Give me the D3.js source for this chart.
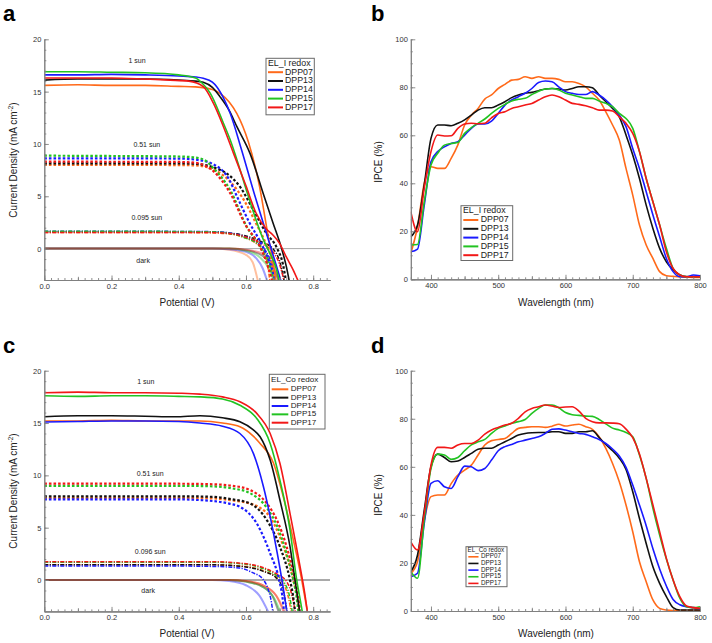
<!DOCTYPE html>
<html><head><meta charset="utf-8">
<script src="https://cdn.jsdelivr.net/npm/d3@7"></script>
<style>
body{margin:0;background:#fff;}
svg{display:block;font-family:"Liberation Sans",Arial,Helvetica,sans-serif;}
</style></head><body>
<svg id="chart" width="712" height="643"></svg>
<script>
// ---------------- DATA ----------------
const dyes = ["DPP07","DPP13","DPP14","DPP15","DPP17"];
const dyeColors = ["#ff6a1a","#111111","#1a1aff","#22c322","#f21818"];

const jvTicksMajor = [0,0.2,0.4,0.6,0.8];
const jTicksMajor = [0,5,10,15,20];
const wlTicksMajor = [400,500,600,700,800];
const ipceTicksMajor = [0,20,40,60,80,100];

// Panel a : EL_I redox, J-V points [V, J] per dye (DPP07, DPP13, DPP14, DPP15, DPP17)
const jvI_1sun = [
  [[0,15.6],[0.1,15.65],[0.2,15.6],[0.3,15.6],[0.4,15.5],[0.45,15.45],[0.5,15.2],[0.523,14.84],[0.55,14.0],[0.573,12.9],[0.607,10.2],[0.64,6.0],[0.667,1.0],[0.68,-1.2],[0.69,-3.3]],
  [[0,16.1],[0.1,16.2],[0.2,16.2],[0.3,16.2],[0.4,16.1],[0.45,16.0],[0.473,15.9],[0.5,15.4],[0.523,14.5],[0.55,13.2],[0.573,11.65],[0.612,9.1],[0.654,5.0],[0.68,2.5],[0.706,0],[0.72,-1.7],[0.73,-3.3]],
  [[0,16.6],[0.1,16.6],[0.2,16.65],[0.3,16.6],[0.4,16.5],[0.45,16.4],[0.473,16.27],[0.5,15.9],[0.513,15.47],[0.533,14.4],[0.553,12.93],[0.587,9.43],[0.627,5.0],[0.65,2.6],[0.672,0.3],[0.69,-1.6],[0.706,-3.3]],
  [[0,16.9],[0.1,16.9],[0.2,16.85],[0.3,16.8],[0.4,16.6],[0.45,16.3],[0.47,15.8],[0.494,14.84],[0.533,11.98],[0.553,10.4],[0.568,9.0],[0.607,5.0],[0.652,0.83],[0.672,-0.5],[0.69,-1.9],[0.70,-3.3]],
  [[0,16.3],[0.1,16.3],[0.2,16.3],[0.3,16.2],[0.374,16.1],[0.43,16.0],[0.473,15.47],[0.503,13.9],[0.533,11.65],[0.563,9.1],[0.6,6.0],[0.63,3.4],[0.66,1.9],[0.68,1.3],[0.70,0.5],[0.72,-0.8],[0.74,-2.0],[0.758,-3.3]]
];
const jvI_051 = [
  [[0,8.0],[0.2,8.0],[0.4,7.98],[0.45,7.95],[0.5,7.6],[0.55,6.5],[0.6,4.3],[0.63,2.4],[0.66,0.4],[0.675,-1.0],[0.685,-3.3]],
  [[0,8.15],[0.2,8.15],[0.4,8.15],[0.45,8.1],[0.5,7.8],[0.55,7.0],[0.582,5.92],[0.62,3.8],[0.66,1.5],[0.693,0],[0.71,-1.5],[0.72,-3.3]],
  [[0,8.63],[0.2,8.63],[0.4,8.6],[0.45,8.5],[0.5,8.1],[0.55,6.6],[0.573,5.0],[0.61,2.5],[0.65,0.2],[0.67,-1.3],[0.69,-3.3]],
  [[0,8.88],[0.2,8.85],[0.4,8.8],[0.45,8.7],[0.48,8.4],[0.503,7.68],[0.553,5.6],[0.602,2.1],[0.642,0.19],[0.665,-1.4],[0.685,-3.3]],
  [[0,8.31],[0.2,8.3],[0.4,8.28],[0.45,8.2],[0.48,7.9],[0.503,7.4],[0.553,5.3],[0.6,2.2],[0.64,0.3],[0.66,-1.2],[0.68,-3.3]]
];
const jvI_0095 = [
  [[0,1.55],[0.3,1.55],[0.5,1.5],[0.55,1.4],[0.6,1.0],[0.63,0.5],[0.65,-0.1],[0.66,-0.9],[0.672,-3.3]],
  [[0,1.6],[0.3,1.6],[0.5,1.58],[0.55,1.5],[0.6,1.2],[0.65,0.6],[0.68,0.0],[0.70,-1.2],[0.715,-3.3]],
  [[0,1.65],[0.3,1.65],[0.5,1.62],[0.55,1.5],[0.6,1.1],[0.64,0.4],[0.66,-0.3],[0.68,-1.8],[0.69,-3.3]],
  [[0,1.65],[0.3,1.65],[0.5,1.6],[0.55,1.45],[0.6,1.0],[0.64,0.3],[0.66,-0.5],[0.675,-2.0],[0.685,-3.3]],
  [[0,1.55],[0.3,1.55],[0.5,1.53],[0.55,1.45],[0.6,1.1],[0.65,0.4],[0.68,-0.3],[0.70,-1.5],[0.715,-3.3]]
];
const jvI_dark = [
  [[0,0],[0.5,0],[0.55,-0.1],[0.6,-0.6],[0.62,-1.3],[0.637,-3.3]],
  [[0,0],[0.55,0],[0.6,-0.15],[0.65,-0.7],[0.68,-1.8],[0.70,-3.3]],
  [[0,0],[0.5,0],[0.55,-0.05],[0.6,-0.3],[0.63,-0.9],[0.65,-1.9],[0.665,-3.3]],
  [[0,0],[0.55,0],[0.6,-0.2],[0.64,-0.8],[0.67,-2.0],[0.685,-3.3]],
  [[0,0],[0.55,0],[0.6,-0.1],[0.65,-0.5],[0.68,-1.5],[0.70,-3.3]]
];

// Panel c : EL_Co redox
const jvCo_1sun = [
  [[0,15.2],[0.1,15.2],[0.2,15.25],[0.3,15.2],[0.4,15.2],[0.463,15.19],[0.53,15.0],[0.582,14.64],[0.62,13.8],[0.642,13.05],[0.682,11.15],[0.711,7.96],[0.741,3.82],[0.766,0],[0.777,-2.0],[0.784,-3.3]],
  [[0,15.6],[0.1,15.7],[0.2,15.7],[0.3,15.65],[0.39,15.6],[0.463,15.7],[0.53,15.5],[0.582,15.12],[0.62,14.4],[0.642,13.69],[0.672,11.46],[0.701,7.64],[0.731,3.18],[0.746,0],[0.755,-2.0],[0.761,-3.3]],
  [[0,15.1],[0.1,15.15],[0.2,15.2],[0.3,15.2],[0.4,15.15],[0.463,15.0],[0.53,14.7],[0.582,14.0],[0.622,12.1],[0.652,8.91],[0.682,4.46],[0.707,0],[0.716,-1.8],[0.723,-3.3]],
  [[0,17.6],[0.1,17.55],[0.2,17.6],[0.3,17.6],[0.4,17.55],[0.463,17.5],[0.53,17.3],[0.582,16.7],[0.632,15.44],[0.672,13.05],[0.701,9.55],[0.731,4.78],[0.751,0],[0.762,-2.0],[0.769,-3.3]],
  [[0,17.9],[0.1,17.95],[0.2,17.9],[0.3,17.9],[0.4,17.85],[0.463,17.76],[0.53,17.5],[0.582,17.03],[0.632,15.92],[0.672,14.0],[0.701,11.15],[0.731,6.37],[0.761,1.27],[0.775,-1.3],[0.784,-3.3]]
];
const jvCo_051 = [
  [[0,7.85],[0.2,7.85],[0.4,7.85],[0.5,7.8],[0.56,7.6],[0.612,7.3],[0.642,6.9],[0.672,6.0],[0.707,3.6],[0.741,0],[0.752,-1.6],[0.759,-3.3]],
  [[0,8.0],[0.2,8.0],[0.4,8.0],[0.5,7.95],[0.56,7.7],[0.612,7.32],[0.662,5.73],[0.701,3.18],[0.731,0],[0.74,-1.5],[0.747,-3.3]],
  [[0,7.7],[0.2,7.7],[0.4,7.7],[0.5,7.55],[0.55,7.3],[0.582,7.0],[0.632,5.41],[0.672,2.55],[0.701,-0.3],[0.708,-1.5],[0.714,-3.3]],
  [[0,9.0],[0.2,9.0],[0.4,9.0],[0.5,8.95],[0.56,8.75],[0.612,8.3],[0.662,6.9],[0.692,5.2],[0.721,2.5],[0.741,0],[0.75,-1.5],[0.757,-3.3]],
  [[0,9.2],[0.2,9.2],[0.4,9.2],[0.5,9.15],[0.56,9.0],[0.612,8.6],[0.662,7.32],[0.692,5.73],[0.721,3.18],[0.746,0],[0.755,-1.5],[0.762,-3.3]]
];
const jvCo_0096 = [
  [[0,1.45],[0.3,1.45],[0.5,1.45],[0.6,1.3],[0.65,0.9],[0.69,0.3],[0.71,-0.3],[0.725,-1.5],[0.736,-3.3]],
  [[0,1.45],[0.3,1.45],[0.5,1.45],[0.6,1.25],[0.65,0.85],[0.69,0.2],[0.705,-0.5],[0.715,-1.6],[0.723,-3.3]],
  [[0,1.35],[0.3,1.35],[0.5,1.3],[0.58,1.15],[0.62,0.7],[0.65,0.1],[0.665,-0.8],[0.675,-2.0],[0.681,-3.3]],
  [[0,1.7],[0.3,1.7],[0.5,1.7],[0.6,1.5],[0.65,1.1],[0.69,0.45],[0.715,-0.3],[0.73,-1.6],[0.739,-3.3]],
  [[0,1.75],[0.3,1.75],[0.5,1.75],[0.6,1.55],[0.65,1.2],[0.69,0.6],[0.72,-0.1],[0.737,-1.5],[0.748,-3.3]]
];
const jvCo_dark = [
  [[0,0],[0.55,0],[0.6,-0.1],[0.65,-0.5],[0.69,-1.5],[0.72,-3.3]],
  [[0,0],[0.55,0],[0.6,-0.15],[0.65,-0.65],[0.68,-1.6],[0.70,-3.3]],
  [[0,0],[0.5,0],[0.55,-0.1],[0.6,-0.5],[0.64,-1.5],[0.67,-3.3]],
  [[0,0],[0.55,0],[0.6,-0.15],[0.65,-0.65],[0.685,-1.8],[0.705,-3.3]],
  [[0,0],[0.55,0],[0.6,-0.1],[0.65,-0.5],[0.69,-1.5],[0.715,-3.3]]
];

// IPCE spectra, wavelengths 370..800 nm step 10
const wavelengths = d3.range(370, 801, 10);
const ipceI = [
  [10.8,22,40,46.9,46.2,46.2,50.4,56,64.3,68.4,71.2,75.1,76.8,79.5,81.2,83,83.3,84.4,83.7,84.4,83.7,83.7,83.3,82.3,82.3,81.6,80.2,77.5,74.7,69.8,64.3,58,46.2,35.1,22.6,14.3,8.7,3.2,1.5,1.2,1,1,0.8,0.8],
  [17.7,22.6,39.3,58.7,64.3,64.3,64,65,66.4,68.4,70.5,71.5,71.5,72.6,74,75.7,76.8,77.5,77.9,78.6,79.3,79.5,79.3,78.9,79.5,80.2,80.2,79.8,76.8,74,71.2,67.7,60.1,51.8,42,30.9,21.2,12.9,7.3,3.9,1.8,1.1,1.1,1.0],
  [11.5,12.6,30.9,49,53.2,55.2,56.6,57.3,60.1,62.9,64.7,64.7,65.9,69.1,72.6,74.7,76.1,77.5,79.5,82,82.6,82.3,80.2,78.2,77.5,77,77,78.2,76.8,74.7,71.9,68.4,63.6,54.5,46.2,36.5,26.8,17.7,8.7,3.2,1.1,1.0,1.8,1.5],
  [14.3,14.5,32.3,47.6,52.5,55.9,56.6,57,60.8,63.2,65,66.8,69.1,71.2,72.9,74.3,75,75.4,77,78.4,79.3,79.5,78.9,77.5,76.8,76.1,75.4,75.4,74.3,73.3,71.9,69.1,67,62.9,53.2,42,32.3,22.6,12.9,4.5,1.8,1.0,1.0,1.0],
  [28.2,19.8,37.9,53.2,60.1,59.7,59.8,62.9,64.7,65,64.8,65,67.3,69.1,69.8,71.2,71.9,72.6,73.3,74.7,76.1,76.8,76.1,74.7,73.3,72.9,72.3,71.5,70.5,70.5,70.1,67.7,65,60.8,53.2,42,32.3,22.6,11.5,4.5,1.8,1.0,1.0,1.0]
];
const ipceCo = [
  [15.7,20.5,37.8,47.6,48.3,48.3,53,56.6,58.6,60.7,64.9,69.1,70.9,71.4,71.8,73.9,76,76.4,76.7,76.7,76.4,76.9,77.7,77,77.4,77.7,76.7,75.6,72.5,67.7,61.4,53.8,44.1,33,20.5,12.2,4.6,1.1,0.4,0.2,0.3,0.3,0.3,0.3],
  [16.4,23.3,42,60,65.3,63.9,62.1,62.4,63.9,65.6,67.3,67.7,67.7,69.1,70.4,71.8,73.2,73.9,74.2,74.3,74.3,74.6,74.6,73.9,73.9,74.6,74.6,75,72.2,69.3,66.7,63.6,58.9,49.6,38.5,28.1,18.4,11.5,6,1.4,0.4,0.4,0.4,0.4],
  [14.3,15.7,36.5,53.1,54.2,51.7,51,55.9,60.3,60,58.4,59.3,62.8,66.7,68.4,69.3,70.4,71.1,71.8,72.5,73.9,75.6,75.8,75.3,74.6,73.9,73.5,72.5,71.4,69.7,67.4,64.5,59.8,52.4,44.1,35.5,25.9,17.5,10.4,4.8,2.6,1.8,1.4,1.0],
  [16.4,13.6,37.8,59.3,65.3,64.9,63.1,63.9,66.7,69.1,70.4,71.4,73.9,76,77,78.1,78.8,79.7,82.2,84.3,85.7,85.7,84.6,82.6,81.7,81.4,81.1,81,79.7,77.9,76.1,75.3,74.3,72.5,64.9,55.2,42.7,31.6,21.6,12.9,5.3,1.8,1.4,1.8],
  [28.8,25.4,40.6,60.7,68.1,68.1,67.7,69.1,69.7,69.7,71.1,73.6,75.3,76.4,77.4,78.1,80.2,82.9,84.3,85,85.7,85.3,84.7,84.9,85,83.2,80.2,78.8,78.3,78.3,78.2,77.9,75.7,72.1,65.3,55.2,44.1,33,21.9,12.9,6,2.1,1.4,1.1]
];

// ---------------- DRAWING ----------------
const svg = d3.select("#chart");
const FONT = '"Liberation Sans",Arial,Helvetica,sans-serif';
const AXIS_COL = "#808080";

const styles = {
  sun1: {w:1.6, dash:null, op:1},
  half: {w:2.2, dash:"2.6,2", op:1},
  low:  {w:1.5, dash:"4,1.4,1.2,1.4", op:1},
  dark: {w:2.0, dash:null, op:0.42}
};

function makeScales(L){
  const x = d3.scaleLinear().domain(L.xDom).range([L.x0, L.x1]);
  const y = d3.scaleLinear().domain(L.yDom).range([L.yBot, L.yTop]);
  return {x, y};
}

function styleAxis(g){
  g.select(".domain").attr("stroke", AXIS_COL).attr("stroke-width", 1);
  g.selectAll(".tick line").attr("stroke", AXIS_COL).attr("stroke-width", 0.9);
  g.selectAll(".tick text").attr("fill", "#333").attr("font-family", FONT).attr("font-size", 7.5);
}

function drawAxes(L, sc, xMaj, xMid, xMin, xFmt, yMaj, yMin){
  const {x, y} = sc;
  const gx1 = svg.append("g").attr("transform", `translate(0,${L.yBot})`)
    .call(d3.axisBottom(x).tickValues(xMin).tickSize(-2).tickSizeOuter(0).tickFormat(""));
  styleAxis(gx1);
  const gx2 = svg.append("g").attr("transform", `translate(0,${L.yBot})`)
    .call(d3.axisBottom(x).tickValues(xMid).tickSize(-3.2).tickSizeOuter(0).tickFormat(""));
  styleAxis(gx2);
  const gx = svg.append("g").attr("transform", `translate(0,${L.yBot})`)
    .call(d3.axisBottom(x).tickValues(xMaj).tickSize(-4.5).tickSizeOuter(0).tickPadding(3.5).tickFormat(xFmt));
  styleAxis(gx);
  const gy1 = svg.append("g").attr("transform", `translate(${L.x0},0)`)
    .call(d3.axisLeft(y).tickValues(yMin).tickSize(-2).tickSizeOuter(0).tickFormat(""));
  styleAxis(gy1);
  const gy = svg.append("g").attr("transform", `translate(${L.x0},0)`)
    .call(d3.axisLeft(y).tickValues(yMaj).tickSize(-4.5).tickSizeOuter(0).tickPadding(3).tickFormat(d3.format("d")));
  styleAxis(gy);
}

function clipFor(id, L){
  svg.append("clipPath").attr("id", id).append("rect")
    .attr("x", L.x0).attr("y", L.yTop - 2).attr("width", L.x1 - L.x0).attr("height", L.yBot - L.yTop + 2);
  return `url(#${id})`;
}

function drawJVPanel(L, sets, notes, clipId){
  const sc = makeScales(L);
  const clip = clipFor(clipId, L);
  const gPlot = svg.append("g").attr("clip-path", clip);
  gPlot.append("line").attr("x1", sc.x(0)).attr("x2", sc.x(0.85)).attr("y1", sc.y(0)).attr("y2", sc.y(0))
    .attr("stroke", L.zeroCol).attr("stroke-width", 1);
  const line = d3.line().x(d => sc.x(d[0])).y(d => sc.y(d[1])).curve(d3.curveMonotoneX);
  sets.forEach(s => {
    s.data.forEach((pts, i) => {
      gPlot.append("path").attr("d", line(pts)).attr("fill", "none")
        .attr("stroke", dyeColors[i]).attr("stroke-width", s.style.w)
        .attr("stroke-opacity", s.style.op)
        .attr("stroke-dasharray", s.style.dash)
        .attr("stroke-linejoin", "round");
    });
  });
  drawAxes(L, sc, jvTicksMajor, [0.1,0.3,0.5,0.7], d3.range(0, 0.851, 0.02).map(v => +v.toFixed(2)),
    d3.format(".1f"), jTicksMajor, d3.range(-3, 21, 1));
  notes.forEach(n => {
    svg.append("text").attr("x", sc.x(n.v)).attr("y", sc.y(n.j)).attr("text-anchor", "middle")
      .attr("dominant-baseline", "middle").attr("font-family", FONT).attr("font-size", 7).attr("fill", "#222")
      .text(n.t);
  });
  return sc;
}

function drawIPCEPanel(L, data, clipId){
  const sc = makeScales(L);
  const clip = clipFor(clipId, L);
  const gPlot = svg.append("g").attr("clip-path", clip);
  const line = d3.line().x(d => sc.x(d[0])).y(d => sc.y(d[1])).curve(d3.curveMonotoneX);
  data.forEach((vals, i) => {
    const pts = wavelengths.map((w, k) => [w, vals[k]]);
    gPlot.append("path").attr("d", line(pts)).attr("fill", "none")
      .attr("stroke", dyeColors[i]).attr("stroke-width", 1.6).attr("stroke-linejoin", "round");
  });
  drawAxes(L, sc, wlTicksMajor, [450,550,650,750], d3.range(370, 801, 10), d3.format("d"),
    ipceTicksMajor, d3.range(0, 101, 5));
  return sc;
}

function legend(Lg){
  const g = svg.append("g");
  g.append("rect").attr("x", Lg.x).attr("y", Lg.y).attr("width", Lg.w).attr("height", Lg.h)
    .attr("fill", "#fff").attr("stroke", "#6a6a6a").attr("stroke-width", 1);
  g.append("text").attr("x", Lg.titleX).attr("y", Lg.titleY).attr("dominant-baseline", "middle")
    .attr("font-family", FONT).attr("font-size", Lg.fs).attr("fill", "#222").text(Lg.title);
  dyes.forEach((d, i) => {
    const yy = Lg.row0 + i * Lg.dy;
    g.append("line").attr("x1", Lg.sx0).attr("x2", Lg.sx1).attr("y1", yy).attr("y2", yy)
      .attr("stroke", dyeColors[i]).attr("stroke-width", Lg.lw);
    g.append("text").attr("x", Lg.tx).attr("y", yy).attr("dominant-baseline", "middle")
      .attr("font-family", FONT).attr("font-size", Lg.fs).attr("fill", "#222").text(d);
  });
}

function axisTitle(x, y, txt, rot, sup){
  const t = svg.append("text").attr("font-family", FONT).attr("font-size", 10).attr("fill", "#222")
    .attr("text-anchor", "middle")
    .attr("transform", `translate(${x},${y})` + (rot ? " rotate(-90)" : ""));
  if (sup) {
    t.append("tspan").text(txt);
    t.append("tspan").attr("font-size", 6.5).attr("dy", -4).text(sup);
    t.append("tspan").attr("dy", 4).text(")");
  } else t.text(txt);
}

function panelLetter(x, y, s){
  svg.append("text").attr("x", x).attr("y", y).attr("font-family", FONT).attr("font-weight", "bold")
    .attr("font-size", 22).attr("fill", "#000").text(s);
}

// Layouts
const LA = {x0:44.3, x1:330, yTop:39.3, yBot:280, xDom:[0,0.85], yDom:[-3,20], zeroCol:"#a8a8a8"};
const LB = {x0:410.8, x1:700, yTop:39.3, yBot:279.3, xDom:[370,800], yDom:[0,100]};
const LC = {x0:44.3, x1:330, yTop:370.7, yBot:611.4, xDom:[0,0.85], yDom:[-3,20], zeroCol:"#555"};
const LD = {x0:410.8, x1:700, yTop:370.7, yBot:611, xDom:[370,800], yDom:[0,100]};

drawJVPanel(LA, [
  {data: jvI_dark, style: styles.dark},
  {data: jvI_0095, style: styles.low},
  {data: jvI_051, style: styles.half},
  {data: jvI_1sun, style: styles.sun1}
], [
  {t:"1 sun", v:0.276, j:17.9},
  {t:"0.51 sun", v:0.305, j:9.84},
  {t:"0.095 sun", v:0.305, j:2.93},
  {t:"dark", v:0.294, j:-1.24}
], "clipA");

drawIPCEPanel(LB, ipceI, "clipB");

drawJVPanel(LC, [
  {data: jvCo_dark, style: styles.dark},
  {data: jvCo_0096, style: styles.low},
  {data: jvCo_051, style: styles.half},
  {data: jvCo_1sun, style: styles.sun1}
], [
  {t:"1 sun", v:0.302, j:18.9},
  {t:"0.51 sun", v:0.315, j:10.15},
  {t:"0.096 sun", v:0.315, j:2.67},
  {t:"dark", v:0.309, j:-1.05}
], "clipC");

drawIPCEPanel(LD, ipceCo, "clipD");

// Legends
legend({x:266, y:58.3, w:48.3, h:56.5, title:"EL_I redox", titleX:268, titleY:63.5, row0:72.2, dy:8.8,
  sx0:268, sx1:283, tx:285, fs:8.8, lw:2});
legend({x:461, y:205.7, w:51.7, h:54.8, title:"EL_I redox", titleX:463, titleY:210.8, row0:220, dy:8.8,
  sx0:463.3, sx1:478.3, tx:480.7, fs:8.8, lw:2});
legend({x:269.3, y:374.3, w:55.7, h:54.7, title:"EL_Co redox", titleX:271, titleY:380, row0:389.3, dy:8.35,
  sx0:271.7, sx1:288.3, tx:290.7, fs:8.1, lw:2});
legend({x:466, y:546.7, w:41, h:40, title:"EL_Co redox", titleX:467.5, titleY:550.3, row0:556.8, dy:6.65,
  sx0:468.3, sx1:478.5, tx:481, fs:6.3, lw:1.6});

// Axis titles
axisTitle(187, 306, "Potential (V)", false);
axisTitle(16.5, 160, "Current Density (mA cm", true, "-2");
axisTitle(556, 306, "Wavelength (nm)", false);
axisTitle(382, 162, "IPCE (%)", true);
axisTitle(187, 637, "Potential (V)", false);
axisTitle(16.5, 491, "Current Density (mA cm", true, "-2");
axisTitle(556, 637, "Wavelength (nm)", false);
axisTitle(382, 495, "IPCE (%)", true);

// Panel letters
panelLetter(3, 20.7, "a");
panelLetter(371, 20.7, "b");
panelLetter(3, 353.3, "c");
panelLetter(371, 353.3, "d");
</script>
</body></html>
